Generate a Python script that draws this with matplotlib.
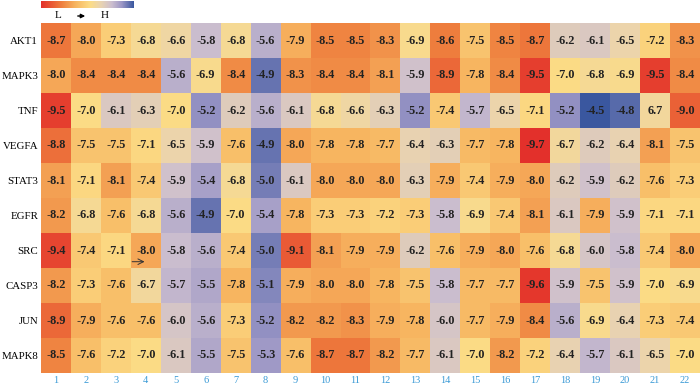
import numpy as np
import matplotlib.pyplot as plt
from matplotlib.colors import LinearSegmentedColormap

targets = ['AKT1', 'MAPK3', 'TNF', 'VEGFA', 'STAT3', 'EGFR', 'SRC', 'CASP3', 'JUN', 'MAPK8']
compounds = [str(i) for i in range(1, 23)]

akt1  = [-8.7, -8.0, -7.3, -6.8, -6.6, -5.8, -6.8, -5.6, -7.9, -8.5, -8.5, -8.3, -6.9, -8.6, -7.5, -8.5, -8.7, -6.2, -6.1, -6.5, -7.2, -8.3]
mapk3 = [-8.0, -8.4, -8.4, -8.4, -5.6, -6.9, -8.4, -4.9, -8.3, -8.4, -8.4, -8.1, -5.9, -8.9, -7.8, -8.4, -9.5, -7.0, -6.8, -6.9, -9.5, -8.4]
tnf   = [-9.5, -7.0, -6.1, -6.3, -7.0, -5.2, -6.2, -5.6, -6.1, -6.8, -6.6, -6.3, -5.2, -7.4, -5.7, -6.5, -7.1, -5.2, -4.5, -4.8, 6.7, -9.0]
vegfa = [-8.8, -7.5, -7.5, -7.1, -6.5, -5.9, -7.6, -4.9, -8.0, -7.8, -7.8, -7.7, -6.4, -6.3, -7.7, -7.8, -9.7, -6.7, -6.2, -6.4, -8.1, -7.5]
stat3 = [-8.1, -7.1, -8.1, -7.4, -5.9, -5.4, -6.8, -5.0, -6.1, -8.0, -8.0, -8.0, -6.3, -7.9, -7.4, -7.9, -8.0, -6.2, -5.9, -6.2, -7.6, -7.3]
egfr  = [-8.2, -6.8, -7.6, -6.8, -5.6, -4.9, -7.0, -5.4, -7.8, -7.3, -7.3, -7.2, -7.3, -5.8, -6.9, -7.4, -8.1, -6.1, -7.9, -5.9, -7.1, -7.1]
src   = [-9.4, -7.4, -7.1, -8.0, -5.8, -5.6, -7.4, -5.0, -9.1, -8.1, -7.9, -7.9, -6.2, -7.6, -7.9, -8.0, -7.6, -6.8, -6.0, -5.8, -7.4, -8.0]
casp3 = [-8.2, -7.3, -7.6, -6.7, -5.7, -5.5, -7.8, -5.1, -7.9, -8.0, -8.0, -7.8, -7.5, -5.8, -7.7, -7.7, -9.6, -5.9, -7.5, -5.9, -7.0, -6.9]
jun   = [-8.9, -7.9, -7.6, -7.6, -6.0, -5.6, -7.3, -5.2, -8.2, -8.2, -8.3, -7.9, -7.8, -6.0, -7.7, -7.9, -8.4, -5.6, -6.9, -6.4, -7.3, -7.4]
mapk8 = [-8.5, -7.6, -7.2, -7.0, -6.1, -5.5, -7.5, -5.3, -7.6, -8.7, -8.7, -8.2, -7.7, -6.1, -7.0, -8.2, -7.2, -6.4, -5.7, -6.1, -6.5, -7.0]

data = np.array([akt1, mapk3, tnf, vegfa, stat3, egfr, src, casp3, jun, mapk8])

cmap = LinearSegmentedColormap.from_list('lh', [
    (0.00, '#e3302b'), (0.22, '#ef7f3e'), (0.37, '#f7b560'),
    (0.53, '#fcdc86'), (0.64, '#ead4b0'), (0.76, '#cdbfcf'),
    (0.87, '#9c97c6'), (1.00, '#3a579f')])
vmin, vmax = -9.7, -4.6

fig = plt.figure(figsize=(7, 3.85), dpi=100)
ax = fig.add_axes([41 / 700, 12 / 385, 659 / 700, 350 / 385])
# colour by magnitude; the one unsigned label is shaded like its neighbours
ax.imshow(-np.abs(data), cmap=cmap, vmin=vmin, vmax=vmax, aspect='auto',
          interpolation='nearest')
for i in range(data.shape[0]):
    for j in range(data.shape[1]):
        ax.text(j, i, f'{data[i, j]:.1f}', ha='center', va='center',
                fontsize=8.8, fontweight='bold', family='Liberation Serif',
                color='#222222')

ax.set_xticks(range(len(compounds)))
ax.set_xticklabels(compounds, fontsize=7.5, family='Liberation Serif', color='#3a9ad6')
ax.set_yticks(range(len(targets)))
ax.set_yticklabels(targets, fontsize=7.8, family='Liberation Serif')
ax.tick_params(length=0, pad=2)
for s in ax.spines.values():
    s.set_visible(False)

# stray arrow in the SRC row
ax.annotate('', xy=(3.05, 6.32), xytext=(2.45, 6.32),
            arrowprops=dict(arrowstyle='->', lw=0.7, color='#333333'))

# colour bar legend
cax = fig.add_axes([41 / 700, (385 - 8) / 385, 93 / 700, 7 / 385])
cax.imshow(np.linspace(0, 1, 256)[None, :], cmap=cmap, aspect='auto')
cax.axis('off')
fig.text(58 / 700, 1 - 16 / 385, 'L', ha='center', va='center', fontsize=8,
         family='Liberation Serif')
fig.text(105 / 700, 1 - 16 / 385, 'H', ha='center', va='center', fontsize=8,
         family='Liberation Serif')
fig.add_artist(plt.Annotation('', xy=(88 / 700, 1 - 16 / 385), xytext=(75 / 700, 1 - 16 / 385),
                              xycoords='figure fraction', textcoords='figure fraction',
                              arrowprops=dict(arrowstyle='-|>', lw=1, color='black',
                                              mutation_scale=6)))

fig.savefig('out.png', dpi=100)
